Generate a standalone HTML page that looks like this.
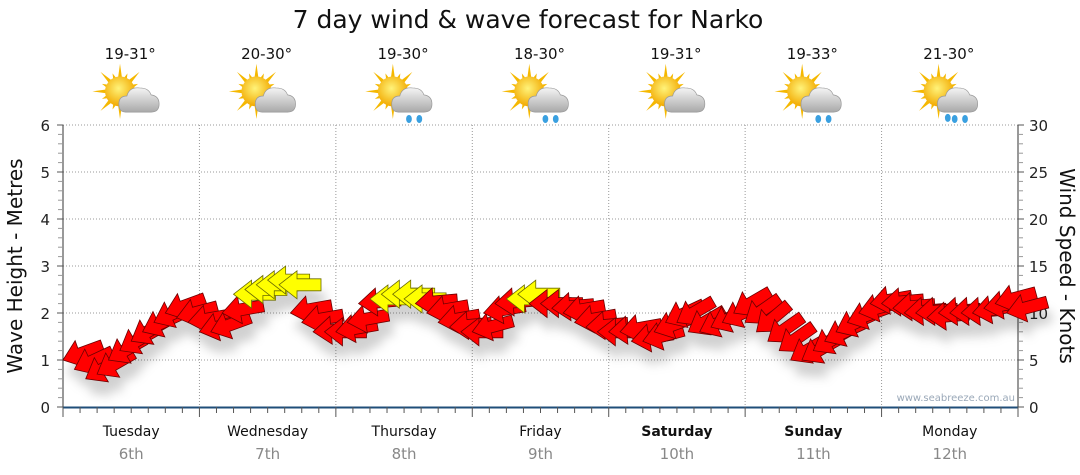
<!DOCTYPE html>
<html><head><meta charset="utf-8"><style>
html,body{margin:0;padding:0;background:#fff;}
svg{display:block;font-family:"DejaVu Sans","Liberation Sans",sans-serif;}
</style></head><body>
<svg id="c" width="1080" height="475" viewBox="0 0 1080 475">
<defs>
<filter id="sh" x="-30%" y="-30%" width="160%" height="200%"><feDropShadow dx="4" dy="14" stdDeviation="5" flood-color="#000" flood-opacity="0.18"/></filter>
<radialGradient id="sun" cx="45%" cy="40%" r="60%"><stop offset="0" stop-color="#fff37a"/><stop offset="1" stop-color="#f2a900"/></radialGradient>
<linearGradient id="cld" x1="0" y1="0" x2="0" y2="1"><stop offset="0" stop-color="#f4f4f4"/><stop offset="1" stop-color="#a9a9a9"/></linearGradient>
</defs>
<text x="528" y="28" text-anchor="middle" font-size="25" fill="#111">7 day wind &amp; wave forecast for Narko</text>
<g id="grid"></g>
<g id="axes"></g>
<g id="days"></g>
<g id="wx"></g>
<g id="arrows" filter="url(#sh)"></g>
<text x="1015" y="401" text-anchor="end" font-size="10" fill="#9aa8b8">www.seabreeze.com.au</text>
<text transform="translate(22,266) rotate(-90)" text-anchor="middle" font-size="20" fill="#111">Wave Height - Metres</text>
<text transform="translate(1060,266) rotate(90)" text-anchor="middle" font-size="20" fill="#111">Wind Speed - Knots</text>
</svg>
<script>
const dayNames=["Tuesday","Wednesday","Thursday","Friday","Saturday","Sunday","Monday"];
const dayDates=["6th","7th","8th","9th","10th","11th","12th"];
const temps=["19-31°","20-30°","19-30°","18-30°","19-31°","19-33°","21-30°"];
const rainIcon=[0,0,1,1,0,1,2];
const leftTicks=[0,1,2,3,4,5,6];
const rightTicks=[0,5,10,15,20,25,30];
// wind speed (knots), 2-hourly
const windSpeed=[5,4,3,3.5,5,6,7,8,9,10,9.5,9,
 8,8,10,12,12.5,13,13.5,13,10,9,8,8,
 8,9,11,11.5,12,12,11.5,11,10,9,8.5,8,
 8,10,11,11.5,12,11,11,10.5,10,9,8.5,8,
 8,8,7,7,8,9,9,8,8,8.5,9,10,
 9,8,7,6,5,5,6,7,8,9,10,11,
 11,10.5,10,10,9.5,10,10,10,10,10.5,11,10];
// arrow angle (deg): negative points down-left, positive up-left
const windDir=[-20,-25,-30,-30,-30,-30,-30,-25,-25,-20,-15,-10,
 -15,-20,-10,0,0,0,0,0,-10,-10,-5,0,
 -10,-10,-5,0,0,0,0,-5,-10,-10,-5,0,
 -15,-10,-5,0,0,0,0,-5,-10,-10,-5,0,
 -5,-10,-10,-15,-20,-25,-30,-30,-25,-25,-25,-30,
 -35,-40,-35,-35,-30,-30,-30,-25,-25,-20,-15,-10,
 -5,-5,-5,-5,-5,-5,-5,-5,-10,-10,-15,-15];
const yellowThreshold=11.5;

const svg=document.getElementById('c'),NS="http://www.w3.org/2000/svg";
const X0=63,X1=1018,Y0=407,Y1=125,DW=(X1-X0)/7;
const yM=v=>Y0-(Y0-Y1)*v/6, yK=v=>Y0-(Y0-Y1)*v/30, xH=h=>X0+h/24*DW;
function mk(tag,attrs,parent){const e=document.createElementNS(NS,tag);for(const k in attrs)e.setAttribute(k,attrs[k]);parent.appendChild(e);return e;}
const grid=document.getElementById('grid'),axes=document.getElementById('axes'),days=document.getElementById('days'),wx=document.getElementById('wx'),arr=document.getElementById('arrows');
leftTicks.forEach(v=>{if(v>0){const l=mk('line',{x1:X0,x2:X1,y1:yM(v),y2:yM(v),stroke:'#999','stroke-dasharray':'1,2'},grid);

}});
for(let d=1;d<7;d++){const l=mk('line',{x1:X0+d*DW,x2:X0+d*DW,y1:Y1,y2:Y0,stroke:'#999','stroke-dasharray':'1,2'},grid);

}
mk('line',{x1:X0,x2:X0,y1:Y1,y2:Y0,stroke:'#333'},axes);
mk('line',{x1:X1,x2:X1,y1:Y1,y2:Y0,stroke:'#333'},axes);
const bx=mk('line',{x1:X0,x2:X1,y1:Y0+0.5,y2:Y0+0.5,stroke:'#1f4e79','stroke-width':2},axes);


for(let i=0;i<=30;i++){const y=yK(i);
 mk('line',{x1:X0-(i%5?5:6),x2:X0,y1:y,y2:y,stroke:i%5?'#999':'#555'},axes);
 mk('line',{x1:X1,x2:X1+(i%5?5:6),y1:y,y2:y,stroke:i%5?'#999':'#555'},axes);}
leftTicks.forEach(v=>{const t=mk('text',{x:X0-13,y:yM(v)+6,'text-anchor':'end','font-size':15,fill:'#222'},axes);t.textContent=v;

});
rightTicks.forEach(v=>{const t=mk('text',{x:X1+11,y:yK(v)+6,'font-size':15,fill:'#222'},axes);t.textContent=v;

});
for(let h=0;h<=168;h+=3){const x=xH(h);mk('line',{x1:x,x2:x,y1:Y0,y2:Y0+(h%24?6:10),stroke:'#555'},axes);}
for(let d=0;d<7;d++){const cx=X0+(d+0.5)*DW;const bold=d===4||d===5;
 const n=mk('text',{x:cx,y:436,'text-anchor':'middle','font-size':14,fill:'#111','font-weight':bold?'bold':'normal'},days);n.textContent=dayNames[d];
 
 
 const dt=mk('text',{x:cx,y:459,'text-anchor':'middle','font-size':15,fill:'#888'},days);dt.textContent=dayDates[d];
 
 
 const tt=mk('text',{x:cx-1,y:59,'text-anchor':'middle','font-size':15,fill:'#111'},wx);tt.textContent=temps[d];
 
 
 const g=mk('g',{transform:`translate(${cx-2},96) scale(1.15)`},wx);
 
 
 for(let a=0;a<16;a++){const r=a%2?17:24,ang=a*Math.PI/8;const sx=-8,sy=-4;
  mk('polygon',{points:`${sx+Math.cos(ang)*r},${sy+Math.sin(ang)*r} ${sx+Math.cos(ang+0.2)*10},${sy+Math.sin(ang+0.2)*10} ${sx+Math.cos(ang-0.2)*10},${sy+Math.sin(ang-0.2)*10}`,fill:'#f5b800'},g);}
 mk('circle',{cx:-8,cy:-4,r:13,fill:'url(#sun)'},g);
 mk('path',{d:'M-3,14 Q-9,14 -9,7 Q-9,0 -2,0 Q0,-8 9,-7 Q17,-7 19,-1 Q26,0 26,7 Q26,14 19,14 Z',fill:'url(#cld)',stroke:'#999','stroke-width':0.6},g);
 if(rainIcon[d]){mk('ellipse',{cx:6,cy:20,rx:2.5,ry:3.5,fill:'#3aa0e0'},g);mk('ellipse',{cx:15,cy:20,rx:2.5,ry:3.5,fill:'#3aa0e0'},g);
  if(rainIcon[d]>1)mk('ellipse',{cx:0,cy:19,rx:2.5,ry:3.5,fill:'#3aa0e0'},g);}
}
const shape="0,0 18,-14 18,-6 42,-6 42,6 18,6 18,14";
windSpeed.forEach((s,i)=>{const x=xH(i*2),y=yK(s);const yel=s>=yellowThreshold;
 const p=mk('polygon',{points:shape,transform:`translate(${x},${y}) rotate(${windDir[i]})`,fill:yel?'#ffff00':'#ff0000',stroke:yel?'#6b6b00':'#6b0000','stroke-width':0.8},arr);
 
 
});
</script>
</body></html>
